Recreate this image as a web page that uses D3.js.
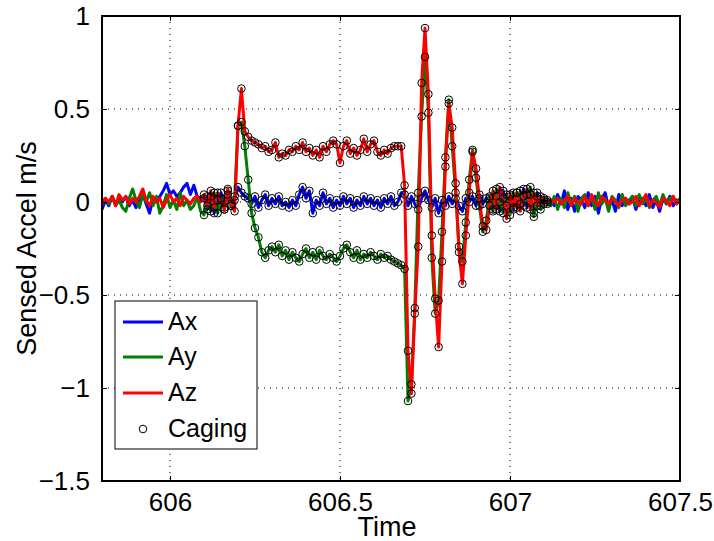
<!DOCTYPE html>
<html>
<head>
<meta charset="utf-8">
<script src="https://cdn.jsdelivr.net/npm/d3@7"></script>
<style>
  html, body { margin: 0; padding: 0; background: #fff; }
  svg { display: block; }
  text { font-family: "Liberation Sans", Arial, Helvetica, sans-serif; fill: #000; }
</style>
</head>
<body>
<svg id="chart" width="714" height="541"></svg>
<script>
// ---- data ----
const t0 = 605.80;      // first sample time (s)
const dt = 0.01;        // sample interval (s)
const xTicks = [606, 606.5, 607, 607.5];
const yTicks = [-1.5, -1, -0.5, 0, 0.5, 1];
const xDomain = [605.8, 607.5];
const yDomain = [-1.5, 1];
const cagingStart = 606.095, cagingEnd = 607.115;
const seriesNames = ["Ax", "Ay", "Az"];
const seriesColors = ["#0000ff", "#008000", "#ff0000"];

const Ax = [
 -0.04, 0.01, -0.02, 0.03, -0.01, 0.02, 0.00, 0.03, -0.02, 0.01,
 -0.03, 0.02, 0.04, -0.01, -0.06, 0.02, 0.00, 0.03, 0.06, 0.10,
 0.04, 0.06, 0.03, 0.05, 0.08, 0.10, 0.04, 0.09, 0.03, 0.02,
 0.02, -0.04, 0.03, -0.06, 0.01, 0.05, -0.03, 0.04, -0.02, 0.03,
 0.08, 0.05, 0.03, 0.02, -0.01, 0.03, -0.03, 0.01, 0.04, -0.02,
 0.02, -0.01, 0.03, -0.02, 0.00, -0.03, 0.01, -0.02, 0.04, 0.08,
 0.02, 0.06, -0.06, 0.01, -0.02, 0.05, -0.01, 0.02, -0.03, 0.01,
 -0.02, 0.03, -0.01, 0.02, -0.03, 0.01, -0.02, 0.03, -0.01, 0.02,
 -0.02, 0.01, -0.03, 0.02, -0.01, 0.03, -0.02, 0.00, 0.05, 0.04,
 -0.02, 0.03, -0.01, -0.04, 0.02, 0.06, 0.01, -0.03, 0.02, -0.06,
 0.01, -0.02, 0.03, -0.01, 0.02, -0.02, -0.05, 0.02, 0.00, 0.03,
 -0.02, 0.04, -0.01, 0.02, 0.02, -0.04, 0.03, -0.05, 0.06, -0.02,
 0.03, -0.04, 0.05, -0.01, 0.07, -0.03, 0.04, -0.06, 0.05, -0.02,
 0.01, 0.00, 0.01, -0.02, 0.04, -0.01, 0.06, -0.04, 0.02, -0.05,
 0.03, 0.01, -0.03, 0.05, -0.02, 0.03, -0.06, 0.02, 0.05, -0.03,
 0.01, -0.05, 0.04, -0.02, 0.02, -0.01, 0.03, -0.04, 0.01, 0.02,
 -0.02, 0.04, -0.03, 0.01, -0.05, 0.02, -0.01, 0.03, -0.02, 0.01,
 0.00
];

const Ay = [
 0.00, 0.02, -0.01, 0.03, -0.02, 0.01, -0.03, -0.05, 0.02, 0.07,
 0.01, -0.03, 0.04, 0.00, 0.05, -0.02, 0.03, -0.06, -0.02, 0.04,
 -0.03, 0.01, -0.04, 0.05, -0.02, 0.01, -0.04, -0.02, 0.03, -0.05,
 -0.07, 0.03, -0.05, 0.05, -0.06, 0.02, -0.04, 0.06, -0.02, 0.01,
 0.41, 0.43, 0.30, 0.12, -0.06, -0.14, -0.19, -0.27, -0.30, -0.26,
 -0.24, -0.27, -0.23, -0.29, -0.26, -0.31, -0.27, -0.30, -0.32, -0.28,
 -0.25, -0.30, -0.27, -0.31, -0.26, -0.29, -0.31, -0.28, -0.30, -0.32,
 -0.29, -0.25, -0.23, -0.27, -0.30, -0.26, -0.31, -0.28, -0.30, -0.27,
 -0.29, -0.31, -0.28, -0.30, -0.29, -0.31, -0.32, -0.33, -0.34, -0.36,
 -1.07, -0.98, -0.57, 0.05, 0.46, 0.78, 0.48, -0.30, -0.60, -0.53,
 -0.16, 0.24, 0.55, 0.30, 0.05, -0.24, -0.32, -0.11, 0.12, 0.28,
 0.13, -0.02, -0.16, -0.10, 0.03, -0.05, 0.07, 0.00, -0.06, 0.04,
 -0.07, 0.05, -0.03, 0.06, -0.02, 0.04, 0.08, -0.08, 0.03, -0.04,
 0.02, -0.01, -0.02, 0.03, -0.04, 0.02, -0.03, 0.05, -0.01, 0.03,
 -0.05, 0.02, 0.04, -0.02, 0.03, -0.04, 0.05, -0.01, 0.02, -0.05,
 0.03, 0.01, -0.03, 0.04, -0.02, 0.01, 0.03, -0.02, 0.04, -0.01,
 0.02, -0.03, 0.01, 0.03, -0.02, 0.04, -0.01, 0.02, 0.03, -0.01,
 0.02
];

const Az = [
 -0.01, 0.02, 0.00, 0.03, -0.02, 0.04, 0.01, 0.03, -0.01, 0.02,
 0.00, 0.03, 0.07, 0.01, -0.02, 0.03, 0.00, 0.02, -0.03, 0.01,
 0.04, 0.00, 0.02, -0.02, 0.03, 0.01, -0.01, 0.02, 0.03, 0.00,
 0.04, -0.02, 0.06, -0.03, 0.05, 0.01, -0.04, 0.07, -0.01, -0.05,
 0.41, 0.61, 0.38, 0.35, 0.33, 0.32, 0.31, 0.29, 0.30, 0.27,
 0.28, 0.32, 0.24, 0.26, 0.25, 0.28, 0.27, 0.30, 0.28, 0.32,
 0.27, 0.29, 0.25, 0.28, 0.24, 0.30, 0.27, 0.31, 0.33, 0.31,
 0.21, 0.30, 0.33, 0.26, 0.29, 0.25, 0.28, 0.34, 0.27, 0.31,
 0.33, 0.27, 0.25, 0.28, 0.26, 0.29, 0.30, 0.30, 0.30, 0.09,
 -0.80, -1.03, -0.60, -0.24, 0.64, 0.935, 0.58, -0.18, -0.52, -0.78,
 -0.32, 0.19, 0.53, 0.40, 0.10, -0.27, -0.44, -0.18, 0.05, 0.27,
 0.18, 0.02, -0.13, -0.15, -0.02, 0.06, -0.04, 0.08, 0.02, -0.09,
 0.04, -0.03, 0.05, -0.05, 0.03, 0.07, -0.04, 0.05, -0.02, 0.03,
 -0.01, 0.01, 0.01, 0.00, 0.02, -0.01, 0.01, 0.03, -0.02, 0.02,
 0.00, -0.01, 0.03, -0.02, 0.04, 0.00, -0.02, 0.03, 0.01, -0.01,
 0.02, 0.00, -0.02, 0.01, 0.02, -0.01, 0.00, 0.03, -0.02, 0.01,
 0.04, -0.02, 0.01, 0.00, -0.03, 0.02, 0.01, -0.02, 0.03, -0.01,
 0.01
];

// ---- chart ----
const W = 714, H = 541;
const margin = { left: 102, top: 16, right: 34, bottom: 60 };
const iw = W - margin.left - margin.right;
const ih = H - margin.top - margin.bottom;

const svg = d3.select("#chart");
const g = svg.append("g").attr("transform", `translate(${margin.left},${margin.top})`);

const x = d3.scaleLinear().domain(xDomain).range([0, iw]);
const y = d3.scaleLinear().domain(yDomain).range([ih, 0]);

const time = Ax.map((_, i) => t0 + i * dt);
const series = [Ax, Ay, Az];

g.append("rect").attr("width", iw).attr("height", ih).attr("fill", "#fff");

// grid (dotted)
const grid = g.append("g").attr("stroke", "#000").attr("stroke-width", 1)
  .attr("stroke-dasharray", "1,5");
xTicks.filter(v => v > xDomain[0] && v < xDomain[1]).forEach(v => {
  grid.append("line").attr("x1", x(v)).attr("x2", x(v)).attr("y1", 0).attr("y2", ih);
});
yTicks.filter(v => v > yDomain[0] && v < yDomain[1]).forEach(v => {
  grid.append("line").attr("y1", y(v)).attr("y2", y(v)).attr("x1", 0).attr("x2", iw);
});

// clip
svg.append("defs").append("clipPath").attr("id", "clip")
  .append("rect").attr("width", iw).attr("height", ih);

const plot = g.append("g").attr("clip-path", "url(#clip)");
const line = d3.line().x((d, i) => x(time[i])).y(d => y(d));

series.forEach((s, k) => {
  plot.append("path").datum(s)
    .attr("fill", "none")
    .attr("stroke", seriesColors[k])
    .attr("stroke-width", 3)
    .attr("stroke-linejoin", "round")
    .attr("d", line);
});

// caging markers
const cagePts = [];
series.forEach(s => {
  s.forEach((v, i) => {
    if (time[i] >= cagingStart && time[i] <= cagingEnd) cagePts.push([time[i], v]);
  });
});
plot.selectAll("circle.cage").data(cagePts).enter().append("circle")
  .attr("class", "cage")
  .attr("cx", d => x(d[0])).attr("cy", d => y(d[1]))
  .attr("r", 3.8)
  .attr("fill", "none").attr("stroke", "#000").attr("stroke-width", 1);

// axes
const fmt = v => String(v).replace("-", "\u2212");
const xAxis = d3.axisBottom(x).tickValues(xTicks).tickSize(-5).tickPadding(12).tickFormat(fmt);
const yAxis = d3.axisLeft(y).tickValues(yTicks).tickSize(-5).tickPadding(12).tickFormat(fmt);
const xAxisTop = d3.axisTop(x).tickValues(xTicks).tickSize(-5).tickFormat("");
const yAxisRight = d3.axisRight(y).tickValues(yTicks).tickSize(-5).tickFormat("");

function styleAxis(sel) {
  sel.select(".domain").remove();
  sel.selectAll(".tick line").attr("stroke", "#000").attr("stroke-width", 1);
  sel.selectAll("text").attr("font-size", 26).attr("fill", "#000")
    .attr("font-family", '"Liberation Sans", Arial, sans-serif');
}
g.append("g").attr("transform", `translate(0,${ih})`).call(xAxis).call(styleAxis);
g.append("g").call(yAxis).call(styleAxis);
g.append("g").call(xAxisTop).call(styleAxis);
g.append("g").attr("transform", `translate(${iw},0)`).call(yAxisRight).call(styleAxis);

// box
g.append("rect").attr("width", iw).attr("height", ih)
  .attr("fill", "none").attr("stroke", "#000").attr("stroke-width", 2);

// axis labels
svg.append("text").attr("x", margin.left + iw / 2 - 4).attr("y", 536)
  .attr("text-anchor", "middle").attr("font-size", 27).text("Time");
svg.append("text")
  .attr("transform", `translate(36,${margin.top + ih / 2}) rotate(-90)`)
  .attr("text-anchor", "middle").attr("font-size", 27).text("Sensed Accel m/s");

// legend
const lg = svg.append("g").attr("transform", "translate(115,301)");
lg.append("rect").attr("width", 142).attr("height", 148)
  .attr("fill", "#fff").attr("stroke", "#000").attr("stroke-width", 1);
const rows = [21, 56, 92, 128];
seriesNames.forEach((n, k) => {
  lg.append("line").attr("x1", 8).attr("x2", 48).attr("y1", rows[k]).attr("y2", rows[k])
    .attr("stroke", seriesColors[k]).attr("stroke-width", 3);
  lg.append("text").attr("x", 53).attr("y", rows[k] + 8).attr("font-size", 25).text(n);
});
lg.append("circle").attr("cx", 28).attr("cy", rows[3]).attr("r", 3.8)
  .attr("fill", "none").attr("stroke", "#000").attr("stroke-width", 1);
lg.append("text").attr("x", 53).attr("y", rows[3] + 8).attr("font-size", 25).text("Caging");
</script>
</body>
</html>
